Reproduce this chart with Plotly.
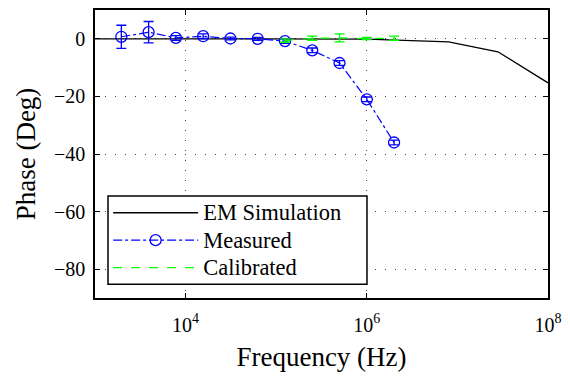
import plotly.graph_objects as go

# ---- data ----
em_freq = [1e3, 1e4, 1e5, 1e6, 8e6, 2.8e7, 1e8]
em_phase = [0.0, 0.0, 0.0, -0.1, -1.1, -4.5, -15.3]

meas_freq = [1953.125, 3906.25, 7812.5, 15625, 31250, 62500, 125000, 250000, 500000, 1e6, 2e6]
meas_phase = [0.7, 2.3, 0.3, 0.9, 0.1, 0.0, -0.8, -4.0, -8.4, -21.0, -36.0]
meas_err = [4.0, 3.7, 0.8, 0.8, 0.5, 0.5, 0.8, 0.8, 0.8, 0.8, 0.8]

cal_freq = [125000, 250000, 500000, 1e6, 2e6]
cal_phase = [-0.6, 0.2, 0.3, 0.1, 0.2]
cal_err = [0.6, 0.7, 1.4, 0.4, 0.7]

series_names = ["EM Simulation", "Measured", "Calibrated"]

x_tickvals = [1e4, 1e6, 1e8]
x_ticktext = ["10<sup>4</sup>", "10<sup>6</sup>", "10<sup>8</sup>"]
y_tickvals = [0, -20, -40, -60, -80]

FONT = "'Liberation Serif', 'Times New Roman', Times, serif"


def legend_label(s):
    # larger glyphs than the legend's row spacing font
    return '<span style="font-size:22.5px">' + s + '</span>'


fig = go.Figure()
fig.add_trace(go.Scatter(
    x=em_freq, y=em_phase, mode="lines", name=legend_label(series_names[0]),
    line=dict(color="black", width=1.3),
))
fig.add_trace(go.Scatter(
    x=meas_freq, y=meas_phase, mode="lines+markers", name=legend_label(series_names[1]),
    line=dict(color="#0000ff", width=1.2, dash="dashdot"),
    marker=dict(symbol="circle-open", size=11, color="#0000ff", line=dict(width=1.3)),
    error_y=dict(type="data", array=meas_err, visible=True, color="#0000ff", thickness=1.3, width=5),
))
fig.add_trace(go.Scatter(
    x=cal_freq, y=cal_phase, mode="lines", name=legend_label(series_names[2]),
    line=dict(color="#00ff00", width=1.2, dash="dash"),
    error_y=dict(type="data", array=cal_err, visible=True, color="#00ff00", thickness=1.3, width=5),
))

axis_common = dict(
    showline=True, linecolor="black", linewidth=1.5, mirror="ticks",
    ticks="inside", ticklen=5, tickcolor="black", tickwidth=1,
    showgrid=True, gridcolor="#444444", gridwidth=1, griddash="1px,9px",
    zeroline=False,
    tickfont=dict(family=FONT, size=20, color="black"),
)

fig.update_xaxes(
    type="log", range=[3, 8], tickvals=x_tickvals, ticktext=x_ticktext,
    ticklabelstandoff=8,
    title=dict(text="Frequency (Hz)", font=dict(family=FONT, size=27, color="black"), standoff=12),
    **axis_common,
)
fig.update_yaxes(
    range=[-90, 10], tickvals=y_tickvals, ticklabelstandoff=4,
    title=dict(text="Phase (Deg)", font=dict(family=FONT, size=27, color="black"), standoff=11),
    **axis_common,
)

# legend frame (MATLAB-style box, wider than the text)
fig.add_shape(
    type="rect", xref="paper", yref="paper",
    x0=0.0287, x1=0.6004, y0=0.048, y1=0.354,
    line=dict(color="black", width=1.5), fillcolor="white", layer="above",
)

# page body has an 8px default margin: size the figure to fit the 570x377 window
fig.update_layout(
    width=562, height=369,
    margin=dict(l=87, r=22, t=0, b=79),
    paper_bgcolor="white", plot_bgcolor="white",
    font=dict(family=FONT, color="black"),
    legend=dict(
        x=0.029, y=0.361, xanchor="left", yanchor="top",
        bgcolor="rgba(0,0,0,0)", borderwidth=0,
        font=dict(family=FONT, size=18.8, color="black"),
        itemwidth=85, tracegroupgap=0,
    ),
)

fig.write_html("out.html")
